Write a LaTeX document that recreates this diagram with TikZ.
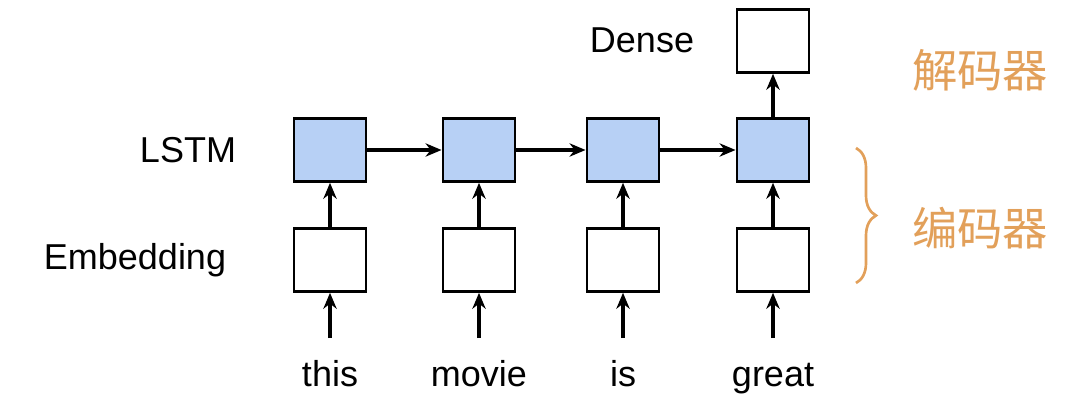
\documentclass[tikz,border=0pt]{standalone}
\usepackage{fontspec}
\setmainfont{Liberation Sans}
\newfontfamily\cjk{Noto Sans CJK SC}
\usetikzlibrary{arrows.meta,decorations.pathreplacing}
\definecolor{lstm}{RGB}{183,208,245}
\definecolor{org}{RGB}{226,160,90}
\begin{document}
\begin{tikzpicture}[x=0.75pt,y=-0.75pt,
  box/.style={draw,line width=2.2pt,minimum width=54pt,minimum height=47pt,inner sep=0},
  ar/.style={-{Stealth[length=12pt,width=10pt]},line width=2.4pt},
  lab/.style={font=\fontsize{27}{32}\selectfont},
  zh/.style={font=\cjk\fontsize{34}{40}\selectfont,text=org}]
\useasboundingbox (0,0) rectangle (1080,416);
\foreach \i/\x/\w in {1/330/this,2/479/movie,3/623/is,4/773/great}{
  \node[box,fill=lstm] (l\i) at (\x,150) {};
  \node[box] (e\i) at (\x,260) {};
  \coordinate (s\i) at (\x,338);
  \node[lab,anchor=base] (w\i) at (\x,386) {\w};
  \draw[ar] (s\i) -- (e\i.south);
  \draw[ar] (e\i) -- (l\i);
}
\draw[ar] (l1) -- (l2);
\draw[ar] (l2) -- (l3);
\draw[ar] (l3) -- (l4);
\node[box] (d) at (773,41) {};
\draw[ar] (l4) -- (d);
\node[lab] (dl) at (642,40) {Dense};
\node[lab] (ll) at (188,150) {LSTM};
\node[lab] (el) at (135,260) {Embedding};
\node[zh] (dec) at (980,70) {解码器};
\node[zh] (enc) at (980,228) {编码器};
\draw[org,line width=2pt,decorate,decoration={brace,amplitude=15pt}] (856,148) -- (856,283);
\end{tikzpicture}
\end{document}
